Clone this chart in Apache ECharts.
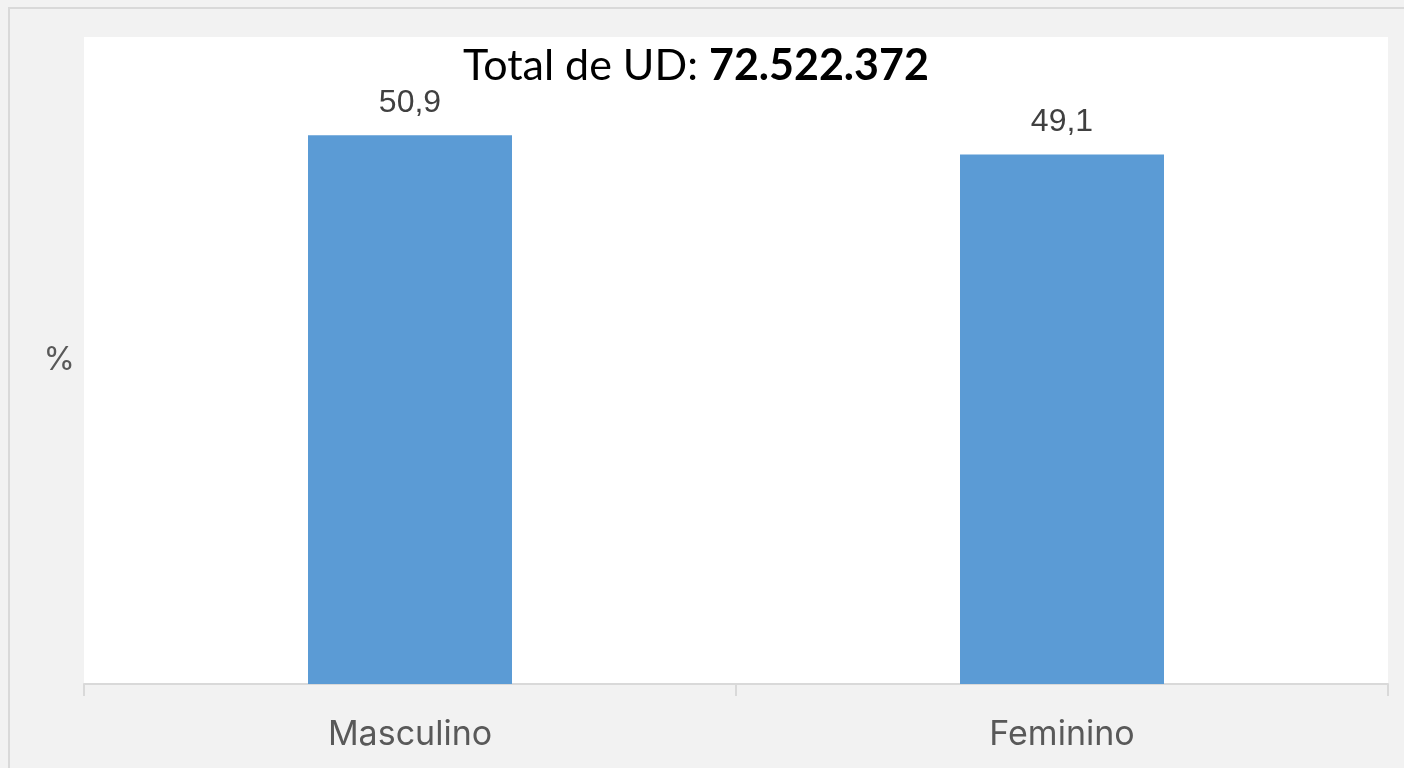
<!DOCTYPE html>
<html>
<head>
<meta charset="utf-8">
<script src="https://cdn.jsdelivr.net/npm/echarts@6/dist/echarts.min.js"></script>
<style>
    html, body { margin: 0; padding: 0; background: #f2f2f2; }
    #chart { width: 1404px; height: 768px; }
</style>
</head>
<body>
<div id="chart"></div>
<script>
    // dados
    const categories = ['Masculino', 'Feminino']
    const percentages = [50.9, 49.1]
    const totalUD = '72.522.372'

    const chart = echarts.init(document.getElementById('chart'))
    chart.setOption({
        backgroundColor: '#f2f2f2',
        animation: false,
        title: {
            text: '{n|Total de UD: }{b|' + totalUD + '}',
            left: 458,
            top: 40,
            textStyle: {
                fontWeight: 'normal',
                rich: {
                    n: {fontFamily: 'Lato', fontSize: 43, fontWeight: 'normal', color: '#000'},
                    b: {fontFamily: 'Lato', fontSize: 43, fontWeight: 'bold', color: '#000'}
                }
            }
        },
        graphic: [
            {   // borda externa
                type: 'rect',
                silent: true,
                shape: {x: 9, y: 8, width: 1500, height: 1000},
                style: {fill: null, stroke: '#d9d9d9', lineWidth: 2}
            }
        ],
        grid: {
            left: 84,
            right: 16,
            top: 37,
            bottom: 84,
            show: true,
            backgroundColor: '#ffffff',
            borderWidth: 0
        },
        xAxis: {
            type: 'category',
            data: categories,
            axisLine: {lineStyle: {color: '#d9d9d9', width: 2}},
            axisTick: {show: true, interval: 0, length: 12, lineStyle: {color: '#d9d9d9', width: 2}},
            axisLabel: {
                fontFamily: 'Inter',
                fontSize: 34,
                color: '#595959',
                margin: 34
            }
        },
        yAxis: {
            type: 'value',
            min: 0,
            max: 60,
            name: '%',
            nameLocation: 'middle',
            nameRotate: 0,
            nameGap: 9,
            nameTextStyle: {fontFamily: 'Inter', fontSize: 32, color: '#595959'},
            axisLabel: {show: false},
            axisTick: {show: false},
            axisLine: {show: false},
            splitLine: {show: false}
        },
        series: [
            {
                type: 'bar',
                data: percentages,
                barWidth: 204,
                itemStyle: {color: '#5b9bd5'},
                label: {
                    show: true,
                    position: 'top',
                    distance: 16,
                    fontFamily: 'Liberation Sans',
                    fontSize: 32,
                    color: '#404040',
                    formatter: p => String(p.value).replace('.', ',')
                }
            }
        ]
    })
</script>
</body>
</html>
